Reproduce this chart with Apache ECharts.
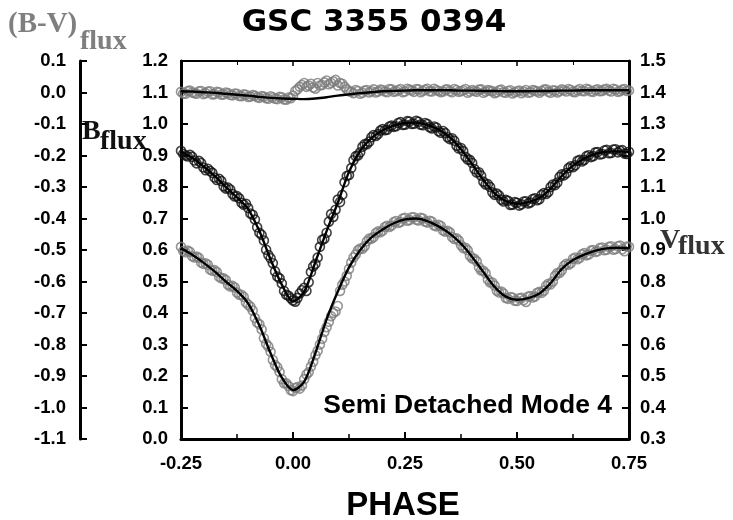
<!DOCTYPE html>
<html>
<head>
<meta charset="utf-8">
<script src="https://cdn.jsdelivr.net/npm/echarts@6/dist/echarts.min.js"></script>
<style>html,body{margin:0;padding:0;background:#fff;}#c{width:733px;height:520px;}</style>
</head>
<body>
<div id="c"></div>
<script>
// ---- data ----
const titleText = 'GSC 3355 0394';
const xTitle = 'PHASE';
const modeText = 'Semi Detached Mode 4';

// observations, set 1
const obsPhase = [-0.25,-0.24,-0.23,-0.22,-0.21,-0.20,-0.19,-0.18,-0.17,-0.16,-0.15,-0.14,-0.13,-0.12,-0.11,-0.10,-0.09,-0.08,-0.07,-0.06,-0.05,-0.04,-0.03,-0.02,-0.01,0.00,0.01,0.02,0.03,0.04,0.05,0.06,0.07,0.08,0.09,0.10,0.11,0.12,0.13,0.14,0.15,0.16,0.17,0.18,0.19,0.20,0.21,0.22,0.23,0.24,0.25,0.26,0.27,0.28,0.29,0.30,0.31,0.32,0.33,0.34,0.35,0.36,0.37,0.38,0.39,0.40,0.41,0.42,0.43,0.44,0.45,0.46,0.47,0.48,0.49,0.50,0.51,0.52,0.53,0.54,0.55,0.56,0.57,0.58,0.59,0.60,0.61,0.62,0.63,0.64,0.65,0.66,0.67,0.68,0.69,0.70,0.71,0.72,0.73,0.74,0.75];

const bObs = [0.915,0.900,0.902,0.884,0.883,0.862,0.858,0.845,0.822,0.819,0.795,0.792,0.770,0.764,0.744,0.733,0.712,0.672,0.648,0.601,0.574,0.532,0.510,0.470,0.455,0.440,0.448,0.472,0.470,0.530,0.556,0.610,0.636,0.690,0.705,0.760,0.775,0.835,0.860,0.898,0.910,0.936,0.944,0.965,0.968,0.984,0.982,0.995,0.993,1.006,0.998,1.008,1.001,1.007,0.996,1.000,0.986,0.989,0.972,0.971,0.952,0.947,0.922,0.914,0.887,0.876,0.846,0.836,0.808,0.800,0.775,0.773,0.754,0.756,0.744,0.750,0.745,0.755,0.751,0.764,0.761,0.781,0.784,0.808,0.814,0.840,0.844,0.866,0.869,0.886,0.886,0.901,0.898,0.911,0.905,0.918,0.908,0.920,0.915,0.906,0.912];

const vObs = [0.910,0.893,0.894,0.876,0.875,0.856,0.853,0.834,0.830,0.810,0.805,0.784,0.781,0.758,0.751,0.726,0.708,0.670,0.648,0.602,0.577,0.535,0.513,0.477,0.468,0.452,0.465,0.470,0.505,0.530,0.566,0.600,0.640,0.672,0.700,0.722,0.790,0.818,0.860,0.886,0.905,0.912,0.936,0.941,0.959,0.961,0.977,0.978,0.992,0.989,1.002,0.995,1.004,0.994,1.000,0.987,0.990,0.975,0.976,0.958,0.956,0.935,0.930,0.906,0.899,0.873,0.864,0.835,0.826,0.797,0.787,0.765,0.762,0.745,0.749,0.738,0.748,0.735,0.754,0.752,0.767,0.771,0.793,0.800,0.827,0.836,0.856,0.858,0.876,0.875,0.890,0.886,0.900,0.896,0.908,0.901,0.912,0.903,0.914,0.896,0.910];

const bvObs = [0.002,-0.004,0.006,-0.002,0.004,-0.005,0.003,-0.006,0.002,-0.007,0.000,-0.008,-0.003,-0.011,-0.006,-0.014,-0.008,-0.015,-0.011,-0.018,-0.012,-0.020,-0.014,-0.022,-0.016,-0.010,0.010,0.024,0.018,0.028,0.012,0.022,0.032,0.026,0.035,0.022,0.028,0.010,0.002,0.008,-0.004,0.006,0.000,0.010,0.003,0.008,0.001,0.010,0.004,0.011,0.003,0.009,0.002,0.010,0.005,0.012,0.003,0.008,0.001,0.009,0.004,0.011,0.002,0.007,-0.001,0.008,0.002,0.010,0.003,0.006,-0.002,0.007,0.001,0.005,-0.003,0.004,-0.002,0.008,0.001,0.006,-0.001,0.009,0.002,0.007,0.000,0.010,0.003,0.008,0.001,0.011,0.004,0.009,0.002,0.010,0.005,0.012,0.003,0.009,0.004,0.011,0.006];

// observations, set 2
const obsPhase2 = [-0.245,-0.235,-0.225,-0.215,-0.205,-0.195,-0.185,-0.175,-0.165,-0.155,-0.145,-0.135,-0.125,-0.115,-0.105,-0.095,-0.085,-0.075,-0.065,-0.055,-0.045,-0.035,-0.025,-0.015,-0.005,0.005,0.015,0.025,0.035,0.045,0.055,0.065,0.075,0.085,0.095,0.105,0.115,0.125,0.135,0.145,0.155,0.165,0.175,0.185,0.195,0.205,0.215,0.225,0.235,0.245,0.255,0.265,0.275,0.285,0.295,0.305,0.315,0.325,0.335,0.345,0.355,0.365,0.375,0.385,0.395,0.405,0.415,0.425,0.435,0.445,0.455,0.465,0.475,0.485,0.495,0.505,0.515,0.525,0.535,0.545,0.555,0.565,0.575,0.585,0.595,0.605,0.615,0.625,0.635,0.645,0.655,0.665,0.675,0.685,0.695,0.705,0.715,0.725,0.735,0.745];

const bObs2 = [0.905,0.897,0.896,0.875,0.876,0.853,0.851,0.830,0.826,0.802,0.798,0.778,0.771,0.750,0.747,0.716,0.697,0.655,0.630,0.584,0.558,0.516,0.494,0.458,0.447,0.436,0.462,0.480,0.498,0.548,0.576,0.632,0.655,0.714,0.728,0.752,0.815,0.838,0.885,0.900,0.928,0.936,0.958,0.962,0.979,0.980,0.992,0.991,1.003,0.997,1.009,1.000,1.010,0.998,1.003,0.990,0.992,0.977,0.978,0.958,0.955,0.931,0.924,0.896,0.886,0.857,0.847,0.817,0.809,0.783,0.779,0.760,0.759,0.743,0.752,0.741,0.754,0.748,0.762,0.758,0.775,0.778,0.800,0.806,0.832,0.837,0.860,0.863,0.883,0.881,0.898,0.895,0.910,0.903,0.916,0.907,0.919,0.910,0.917,0.905];

const vObs2 = [0.897,0.898,0.880,0.879,0.860,0.858,0.838,0.836,0.815,0.810,0.790,0.786,0.765,0.758,0.733,0.720,0.684,0.664,0.620,0.594,0.551,0.528,0.490,0.477,0.455,0.462,0.460,0.490,0.512,0.545,0.580,0.618,0.655,0.690,0.705,0.770,0.800,0.840,0.876,0.899,0.904,0.928,0.936,0.954,0.956,0.973,0.973,0.989,0.986,1.000,0.993,1.004,0.996,1.002,0.990,0.993,0.978,0.980,0.962,0.961,0.941,0.937,0.915,0.907,0.882,0.872,0.845,0.834,0.806,0.797,0.771,0.768,0.748,0.751,0.739,0.747,0.741,0.752,0.749,0.764,0.764,0.786,0.791,0.818,0.827,0.850,0.853,0.872,0.871,0.886,0.883,0.898,0.894,0.906,0.899,0.910,0.901,0.912,0.902,0.911];

const bvObs2 = [-0.003,0.005,0.000,-0.004,0.005,-0.002,0.004,-0.005,0.001,-0.006,-0.002,-0.009,-0.004,-0.012,-0.007,-0.013,-0.010,-0.017,-0.013,-0.020,-0.015,-0.021,-0.015,-0.023,-0.018,0.005,0.018,0.030,0.022,0.016,0.030,0.024,0.038,0.030,0.040,0.030,0.018,0.004,-0.002,0.005,-0.001,0.008,0.004,0.000,0.009,0.003,0.011,0.002,0.008,0.001,0.012,0.006,0.011,0.001,0.009,0.004,0.012,0.005,0.003,0.010,0.001,0.008,0.004,0.011,0.003,0.005,0.009,-0.001,0.008,0.004,0.001,0.009,-0.001,0.007,0.001,0.006,0.003,-0.001,0.008,0.003,0.005,0.010,-0.001,0.006,0.004,0.007,0.011,0.002,0.007,0.005,0.012,0.003,0.008,0.004,0.010,0.006,0.012,0.002,0.009,0.005];

// fitted model curves
const fitPhase = [-0.25,-0.225,-0.2,-0.175,-0.15,-0.125,-0.1,-0.075,-0.05,-0.025,0,0.025,0.05,0.075,0.1,0.125,0.15,0.175,0.2,0.225,0.25,0.275,0.3,0.325,0.35,0.375,0.4,0.425,0.45,0.475,0.5,0.525,0.55,0.575,0.6,0.625,0.65,0.675,0.7,0.725,0.75];

const bFit = [0.912,0.893,0.866,0.835,0.800,0.767,0.730,0.660,0.570,0.490,0.437,0.468,0.562,0.660,0.750,0.848,0.915,0.955,0.980,0.995,1.003,1.005,0.997,0.982,0.958,0.920,0.872,0.822,0.780,0.755,0.747,0.752,0.765,0.795,0.835,0.868,0.890,0.905,0.912,0.913,0.910];

const vFit = [0.905,0.885,0.860,0.832,0.800,0.770,0.730,0.660,0.572,0.495,0.455,0.482,0.573,0.680,0.768,0.845,0.900,0.940,0.965,0.985,0.997,1.000,0.992,0.975,0.952,0.920,0.878,0.830,0.783,0.752,0.742,0.747,0.762,0.795,0.840,0.868,0.885,0.898,0.905,0.907,0.906];

const bvFit = [0.004,0.003,0.001,-0.001,-0.004,-0.007,-0.010,-0.014,-0.017,-0.019,-0.020,-0.021,-0.019,-0.015,-0.010,-0.006,-0.002,0.001,0.004,0.005,0.006,0.007,0.007,0.007,0.007,0.006,0.006,0.005,0.005,0.004,0.004,0.004,0.005,0.005,0.006,0.006,0.007,0.007,0.007,0.007,0.007];

const xTicks = {min: -0.25, max: 0.75, interval: 0.25};
const bTicks = {min: 0.0, max: 1.2, interval: 0.1};
const vTicks = {min: 0.3, max: 1.5, interval: 0.1};
const bvTicks = {min: -1.1, max: 0.1, interval: 0.1};

// ---- build ----
const pair = (xs, ys) => xs.map((x, i) => [x, ys[i]]);
const GRAY = '#7c7c7c';
const labelFont = {color: '#000', fontFamily: 'Liberation Sans', fontWeight: 'bold', fontSize: 18.5};

function yAxisBase(t, pos, offset, lblMargin) {
  return {
    type: 'value', min: t.min, max: t.max, interval: t.interval, position: pos, offset: offset,
    axisLine: {show: true, onZero: false, lineStyle: {color: '#000', width: 3}},
    axisTick: {show: true, inside: true, length: 7, lineStyle: {color: '#000', width: 2}},
    axisLabel: Object.assign({margin: lblMargin, formatter: v => (Math.abs(v) < 1e-9 ? 0 : v).toFixed(1)}, labelFont),
    splitLine: {show: false}
  };
}
function obsSeries(axis, xs, ys, col) {
  return {type: 'scatter', yAxisIndex: axis, data: pair(xs, ys), symbol: 'circle', symbolSize: 9,
    itemStyle: {color: 'rgba(255,255,255,0)', borderColor: col, borderWidth: 1.6}, z: 2};
}
function fitSeries(axis, ys) {
  return {type: 'line', yAxisIndex: axis, data: pair(fitPhase, ys), showSymbol: false, smooth: 0.3,
    lineStyle: {color: '#000', width: 2.4}, z: 3};
}

const chart = echarts.init(document.getElementById('c'));
chart.setOption({
  backgroundColor: '#fff',
  animation: false,
  grid: {left: 181, right: 104, top: 61, bottom: 81},
  xAxis: [{
    type: 'value', min: xTicks.min, max: xTicks.max, interval: xTicks.interval, position: 'bottom',
    axisLine: {onZero: false, lineStyle: {color: '#000', width: 3}},
    axisTick: {inside: true, length: 7, lineStyle: {color: '#000', width: 2}},
    minorTick: {show: true, splitNumber: 2, length: 5, lineStyle: {color: '#000', width: 1.5}},
    axisLabel: Object.assign({margin: 15, formatter: v => v.toFixed(2)}, labelFont),
    splitLine: {show: false}
  }, {
    type: 'value', min: xTicks.min, max: xTicks.max, interval: xTicks.interval, position: 'top',
    axisLine: {onZero: false, lineStyle: {color: '#000', width: 2}},
    axisTick: {inside: true, length: 5, lineStyle: {color: '#000', width: 1.5}},
    minorTick: {show: true, splitNumber: 2, length: 4, lineStyle: {color: '#000', width: 1}},
    axisLabel: {show: false},
    splitLine: {show: false}
  }],
  yAxis: [
    yAxisBase(bTicks, 'left', 0, 13),
    yAxisBase(vTicks, 'right', 0, 11),
    yAxisBase(bvTicks, 'left', 101, 14)
  ],
  series: [
    obsSeries(2, obsPhase, bvObs, GRAY),
    obsSeries(2, obsPhase2, bvObs2, GRAY),
    obsSeries(0, obsPhase, bObs, '#111'),
    obsSeries(0, obsPhase2, bObs2, '#111'),
    obsSeries(1, obsPhase, vObs, GRAY),
    obsSeries(1, obsPhase2, vObs2, GRAY),
    fitSeries(2, bvFit),
    fitSeries(0, bFit),
    fitSeries(1, vFit)
  ],
  graphic: [
    {type: 'text', style: {x: 374, y: 23, text: titleText, font: 'bold 31px "DejaVu Sans"', fill: '#000', textAlign: 'center', textVerticalAlign: 'middle'}},
    {type: 'text', style: {x: 403, y: 506, text: xTitle, font: 'bold 33px "Liberation Sans"', fill: '#000', textAlign: 'center', textVerticalAlign: 'middle'}},
    {type: 'text', z: 10, style: {x: 612, y: 406, text: modeText, font: 'bold 26.5px "Liberation Sans"', fill: '#000', textAlign: 'right', textVerticalAlign: 'middle'}},
    {type: 'text', style: {x: 8, y: 25, text: '(B-V)', font: 'bold 29px "Liberation Serif"', fill: '#7f7f7f', textAlign: 'left', textVerticalAlign: 'middle'}},
    {type: 'text', style: {x: 80, y: 42, text: 'flux', font: 'bold 28px "Liberation Serif"', fill: '#7f7f7f', textAlign: 'left', textVerticalAlign: 'middle'}},
    {type: 'text', style: {x: 82, y: 132, text: 'B', font: 'bold 28px "Liberation Serif"', fill: '#111', textAlign: 'left', textVerticalAlign: 'middle'}},
    {type: 'text', style: {x: 100, y: 142, text: 'flux', font: 'bold 28px "Liberation Serif"', fill: '#111', textAlign: 'left', textVerticalAlign: 'middle'}},
    {type: 'text', style: {x: 660, y: 241, text: 'V', font: 'bold 28px "Liberation Serif"', fill: '#333', textAlign: 'left', textVerticalAlign: 'middle'}},
    {type: 'text', style: {x: 678, y: 247, text: 'flux', font: 'bold 28px "Liberation Serif"', fill: '#333', textAlign: 'left', textVerticalAlign: 'middle'}}
  ]
});
</script>
</body>
</html>
